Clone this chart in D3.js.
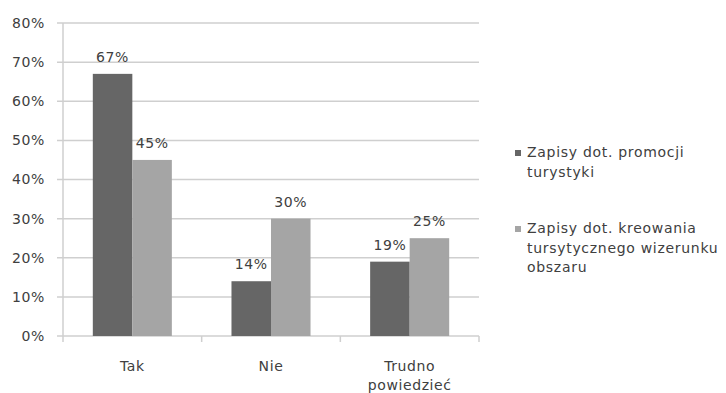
<!DOCTYPE html>
<html><head><meta charset="utf-8">
<script src="https://cdn.jsdelivr.net/npm/d3@7"></script>
<style>body{margin:0;background:#fff}svg{display:block}text{font-family:"DejaVu Sans",sans-serif}</style>
</head><body><svg id="c" width="726" height="393"></svg>
<script>
const categories = [["Tak"], ["Nie"], ["Trudno", "powiedzieć"]];
const seriesNames = [["Zapisy dot. promocji", "turystyki"], ["Zapisy dot. kreowania", "tursytycznego wizerunku", "obszaru"]];
const promocja = [0.67, 0.14, 0.19];
const kreowanie = [0.45, 0.30, 0.25];
const yTicks = [0, 0.1, 0.2, 0.3, 0.4, 0.5, 0.6, 0.7, 0.8];
const colors = ["#666666", "#a5a5a5"];

const svg = d3.select("#c");
const pL = 63, pR = 479, pT = 23, pB = 336;
const y = d3.scaleLinear().domain([0, 0.8]).range([pB, pT]);
const x0 = d3.scaleBand().domain(d3.range(categories.length)).range([pL, pR]).paddingInner(0.43).paddingOuter(0.215);
const x1 = d3.scaleBand().domain([0, 1]).range([0, x0.bandwidth()]);
const fmt = d3.format(".0%");
const txt = "#404040";

// gridlines
svg.append("g").selectAll("line").data(yTicks).join("line")
  .attr("x1", pL - 6).attr("x2", pR).attr("y1", d => y(d)).attr("y2", d => y(d))
  .attr("stroke", "#cfcfcf").attr("stroke-width", 1.5);
// y labels
svg.append("g").selectAll("text").data(yTicks).join("text")
  .attr("x", 45).attr("y", d => y(d)).attr("dy", "0.35em").attr("text-anchor", "end")
  .attr("font-size", 14).attr("letter-spacing", 0.6).attr("fill", txt).text(fmt);
// y axis line
svg.append("line").attr("x1", pL).attr("x2", pL).attr("y1", pT).attr("y2", pB)
  .attr("stroke", "#cfcfcf").attr("stroke-width", 1.5);
// x ticks
const step = x0.step();
svg.append("g").selectAll("line").data(d3.range(categories.length + 1)).join("line")
  .attr("x1", i => pL + i * step).attr("x2", i => pL + i * step)
  .attr("y1", pB).attr("y2", pB + 6).attr("stroke", "#cfcfcf").attr("stroke-width", 1.5);

const series = [promocja, kreowanie];
series.forEach((vals, s) => {
  const g = svg.append("g");
  g.selectAll("rect").data(vals).join("rect")
    .attr("x", (d, i) => x0(i) + x1(s)).attr("width", x1.bandwidth())
    .attr("y", d => y(d)).attr("height", d => y(0) - y(d)).attr("fill", colors[s]);
  g.selectAll("text").data(vals).join("text")
    .attr("x", (d, i) => x0(i) + x1(s) + x1.bandwidth() / 2).attr("y", d => y(d) - 12)
    .attr("text-anchor", "middle").attr("font-size", 14).attr("letter-spacing", 0.6).attr("fill", txt).text(fmt);
});

// category labels
const cg = svg.append("g");
categories.forEach((lines, i) => {
  const t = cg.append("text").attr("x", x0(i) + x0.bandwidth() / 2).attr("y", 371)
    .attr("text-anchor", "middle").attr("font-size", 14).attr("letter-spacing", 0.6).attr("fill", txt);
  lines.forEach((l, j) => t.append("tspan").attr("x", x0(i) + x0.bandwidth() / 2).attr("dy", j ? 19 : 0).text(l));
});

// legend
const legY = [157, 233];
seriesNames.forEach((lines, s) => {
  svg.append("rect").attr("x", 515).attr("y", legY[s] - 7).attr("width", 6).attr("height", 6).attr("fill", colors[s]);
  const t = svg.append("text").attr("x", 527).attr("y", legY[s]).attr("font-size", 14).attr("letter-spacing", 0.7).attr("fill", txt);
  lines.forEach((l, j) => t.append("tspan").attr("x", 527).attr("dy", j ? 19.5 : 0).text(l));
});
</script></body></html>
